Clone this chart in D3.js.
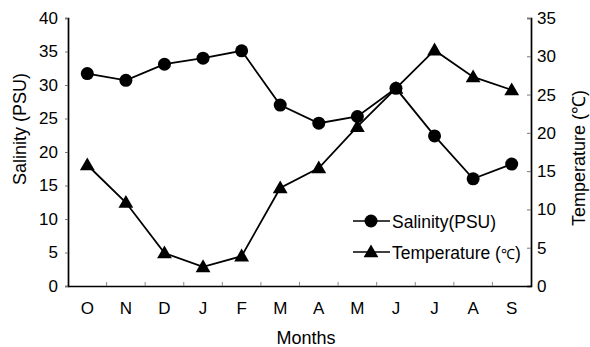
<!DOCTYPE html>
<html>
<head>
<meta charset="utf-8">
<script src="https://cdn.jsdelivr.net/npm/d3@7"></script>
<style>
  html, body { margin: 0; padding: 0; background: #fff; }
  svg { display: block; font-family: "Liberation Sans", Arial, sans-serif; }
</style>
</head>
<body>
<svg id="chart" width="590" height="347"></svg>
<script>
// Monthly salinity and water temperature, October to September
const months = ["O", "N", "D", "J", "F", "M", "A", "M", "J", "J", "A", "S"];
const salinity = [31.7, 30.7, 33.1, 34.0, 35.1, 27.0, 24.3, 25.3, 29.5, 22.4, 16.0, 18.2];
const temperature = [15.8, 10.9, 4.3, 2.5, 3.9, 12.8, 15.4, 20.8, 25.8, 30.8, 27.3, 25.6];
const salinityTicks = [0, 5, 10, 15, 20, 25, 30, 35, 40];
const temperatureTicks = [0, 5, 10, 15, 20, 25, 30, 35];

const svg = d3.select("#chart");
const plotLeft = 68, plotRight = 531, plotTop = 18, plotBottom = 286;

const x = d3.scaleBand().domain(d3.range(months.length)).range([plotLeft, plotRight]);
const ySal = d3.scaleLinear().domain([0, 40]).range([plotBottom, plotTop]);
const yTemp = d3.scaleLinear().domain([0, 35]).range([plotBottom, plotTop]);
const cx = i => x(i) + x.bandwidth() / 2;

// Left axis (salinity)
const gL = svg.append("g").attr("transform", `translate(${plotLeft},0)`)
  .call(d3.axisLeft(ySal).tickValues(salinityTicks).tickSize(3).tickPadding(7));
// Right axis (temperature)
const gR = svg.append("g").attr("transform", `translate(${plotRight},0)`)
  .call(d3.axisRight(yTemp).tickValues(temperatureTicks).tickSize(-4).tickPadding(6));
// Bottom axis: small inward ticks between months
const gB = svg.append("g").attr("transform", `translate(0,${plotBottom})`)
  .call(d3.axisBottom(x).tickFormat(i => months[i]).tickSize(0).tickPadding(16));

[gL, gR, gB].forEach(g => {
  g.select(".domain").attr("stroke", "#000").attr("stroke-width", 1.7);
  g.selectAll(".tick line").attr("stroke", "#777").attr("stroke-width", 1);
  g.selectAll(".tick text").attr("fill", "#000").attr("font-size", 17)
    .attr("font-family", "Liberation Sans, Arial, sans-serif");
});
gB.selectAll(".tick text").attr("dy", "0.71em");

gB.selectAll(".sep").data(d3.range(1, months.length)).enter().append("line")
  .attr("x1", i => x(i)).attr("x2", i => x(i))
  .attr("y1", 0).attr("y2", -4)
  .attr("stroke", "#888").attr("stroke-width", 1);

// Axis titles
svg.append("text").attr("transform", "translate(26,129) rotate(-90)")
  .attr("text-anchor", "middle").attr("font-size", 18).text("Salinity (PSU)");
svg.append("text").attr("transform", "translate(585,158) rotate(-90)")
  .attr("text-anchor", "middle").attr("font-size", 18).text("Temperature (℃)");
svg.append("text").attr("x", 306).attr("y", 344)
  .attr("text-anchor", "middle").attr("font-size", 18).text("Months");

const triangle = d3.symbol().type(d3.symbolTriangle).size(95);

// Temperature series
svg.append("path").datum(temperature)
  .attr("fill", "none").attr("stroke", "#000").attr("stroke-width", 1.8)
  .attr("d", d3.line().x((d, i) => cx(i)).y(d => yTemp(d)));
svg.selectAll(".tri").data(temperature).enter().append("path")
  .attr("d", triangle)
  .attr("transform", (d, i) => `translate(${cx(i)},${yTemp(d) + 1})`)
  .attr("fill", "#000");

// Salinity series
svg.append("path").datum(salinity)
  .attr("fill", "none").attr("stroke", "#000").attr("stroke-width", 1.8)
  .attr("d", d3.line().x((d, i) => cx(i)).y(d => ySal(d)));
svg.selectAll(".dot").data(salinity).enter().append("circle")
  .attr("cx", (d, i) => cx(i)).attr("cy", d => ySal(d)).attr("r", 6.5)
  .attr("fill", "#000");

// Legend
const legend = svg.append("g");
const rows = [
  { y: 221, mark: "circle", label: "Salinity(PSU)" },
  { y: 252, mark: "triangle", label: "Temperature (" }
];
rows.forEach(r => {
  legend.append("line").attr("x1", 353).attr("x2", 390)
    .attr("y1", r.y).attr("y2", r.y).attr("stroke", "#000").attr("stroke-width", 1.5);
  if (r.mark === "circle") {
    legend.append("circle").attr("cx", 371).attr("cy", r.y).attr("r", 6.5).attr("fill", "#000");
  } else {
    legend.append("path").attr("d", triangle)
      .attr("transform", `translate(371,${r.y + 1})`).attr("fill", "#000");
  }
  const t = legend.append("text").attr("x", 392).attr("y", r.y + 7)
    .attr("font-size", 17.5).text(r.label);
  if (r.mark === "triangle") {
    t.append("tspan").attr("font-size", 14).text("℃");
    t.append("tspan").text(")");
  }
});
</script>
</body>
</html>
